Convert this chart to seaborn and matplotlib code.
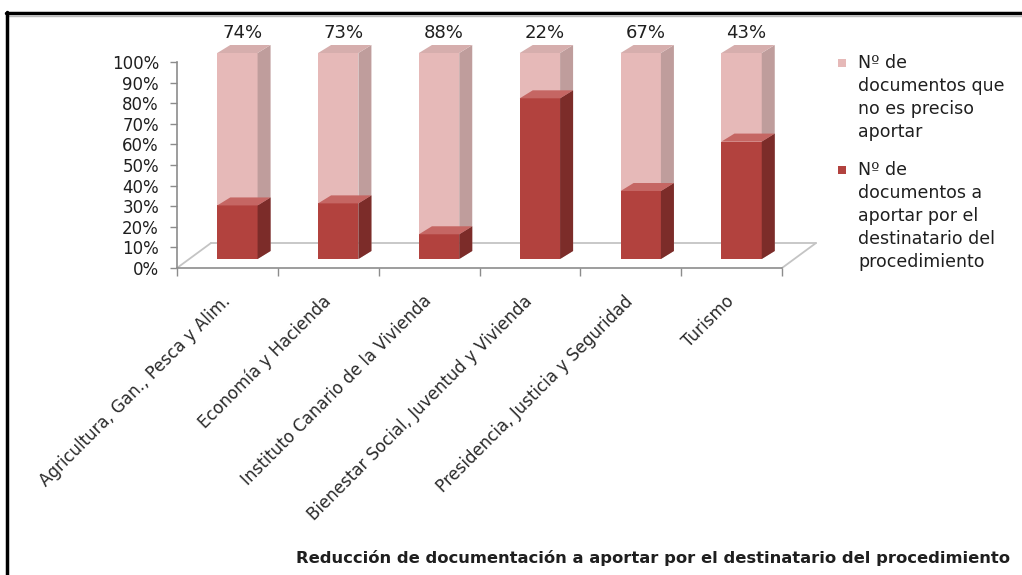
import numpy as np
import pandas as pd
import seaborn as sns
import matplotlib.pyplot as plt
from matplotlib.patches import Polygon, Rectangle
from matplotlib.lines import Line2D

categories = ["Agricultura, Gan., Pesca y Alim.", "Economía y Hacienda",
              "Instituto Canario de la Vivienda", "Bienestar Social, Juventud y Vivienda",
              "Presidencia, Justicia y Seguridad", "Turismo"]
no_preciso = [74, 73, 88, 22, 67, 43]
aportar = [26, 27, 12, 78, 33, 57]
series_names = ["Nº de\ndocumentos que\nno es preciso\naportar",
                "Nº de\ndocumentos a\naportar por el\ndestinatario del\nprocedimiento"]
yticks = list(range(0, 101, 10))
title = "Reducción de documentación a aportar por el destinatario del procedimiento"

pink_front, pink_side, pink_top = "#E6B9B8", "#BF9D9C", "#D6AEAD"
dark_front, dark_side, dark_top = "#B2423E", "#7C2C29", "#C56663"
text_col = "#1f1f1f"
axis_col = "#8C8C8C"

sns.set_theme(style="white")
plt.rcParams["font.family"] = ["DejaVu Sans"]

W, H = 1022, 575
fig = plt.figure(figsize=(W / 100, H / 100), dpi=100)
ax_l, ax_r, ax_b, ax_t = 177, 782, 268, 62
ax = fig.add_axes([ax_l / W, 1 - ax_b / H, (ax_r - ax_l) / W, (ax_b - ax_t) / H])

df = pd.DataFrame({"cat": categories, "aportar": aportar, "no": no_preciso})
df["total"] = df["aportar"] + df["no"]

sns.barplot(data=df, x="cat", y="total", color=pink_front, saturation=1, width=0.4,
            linewidth=0, edgecolor="none", ax=ax, zorder=3)
pink_patches = list(ax.patches)
sns.barplot(data=df, x="cat", y="aportar", color=dark_front, saturation=1, width=0.4,
            linewidth=0, edgecolor="none", ax=ax, zorder=3)
dark_patches = [p for p in ax.patches if p not in pink_patches]

ax.set_xlim(-0.5, len(categories) - 0.5)
ax.set_ylim(0, 100)
sx = (ax_r - ax_l) / len(categories)   # px per x unit
sy = (ax_b - ax_t) / 100.0              # px per %

# 3D-like offsets (pixels)
fx, fy = 10, 9       # front face shift into depth
ddx, ddy = 13, 8     # bar depth
floor_dx, floor_dy = 34, 25

def add_depth(patches, side_c, top_c, z):
    for p in patches:
        p.set_x(p.get_x() + fx / sx)
        p.set_y(p.get_y() + fy / sy)
        p.set_clip_on(False)
        p.set_zorder(z)
        x0, y0 = p.get_x(), p.get_y()
        x1, y1 = x0 + p.get_width(), y0 + p.get_height()
        dx, dy = ddx / sx, ddy / sy
        side = Polygon([(x1, y0), (x1 + dx, y0 + dy), (x1 + dx, y1 + dy), (x1, y1)],
                       closed=True, facecolor=side_c, edgecolor="none", zorder=z, clip_on=False)
        top = Polygon([(x0, y1), (x1, y1), (x1 + dx, y1 + dy), (x0 + dx, y1 + dy)],
                      closed=True, facecolor=top_c, edgecolor="none", zorder=z, clip_on=False)
        ax.add_patch(side)
        ax.add_patch(top)

add_depth(pink_patches, pink_side, pink_top, 3)
add_depth(dark_patches, dark_side, dark_top, 4)

# floor outline
x_lo, x_hi = -0.5, len(categories) - 0.5
fdx, fdy = floor_dx / sx, floor_dy / sy
floor_kw = dict(color="#C4C4C4", lw=1.3, clip_on=False, zorder=1)
ax.plot([x_lo + fdx, x_hi + fdx], [fdy, fdy], **floor_kw)
ax.plot([x_lo, x_lo + fdx], [0, fdy], **floor_kw)
ax.plot([x_hi, x_hi + fdx], [0, fdy], **floor_kw)

# axes styling
for s in ["top", "right"]:
    ax.spines[s].set_visible(False)
for s in ["left", "bottom"]:
    ax.spines[s].set_color(axis_col)
    ax.spines[s].set_linewidth(1.2)
ax.set_xlabel("")
ax.set_ylabel("")
ax.set_yticks(yticks)
ax.set_yticklabels([f"{v}%" for v in yticks], fontsize=12, color=text_col)
ax.tick_params(axis="y", which="major", direction="out", length=5, width=1,
               color=axis_col, pad=8, left=True)
ax.set_xticks(range(len(categories)))
ax.set_xticklabels(categories, rotation=45, ha="right", rotation_mode="anchor",
                   va="center", fontsize=12, color="#2a2a2a")
ax.tick_params(axis="x", which="major", length=0, pad=22)
ax.set_xticks(np.arange(-0.5, len(categories), 1.0), minor=True)
ax.tick_params(axis="x", which="minor", direction="out", length=6, width=1,
               color=axis_col, bottom=True)
ax.grid(False)
ax.patch.set_alpha(0)

# value labels
for i, v in enumerate(no_preciso):
    ax.annotate(f"{v}%", xy=(i, 100), xytext=(15 * 0.72, 29 * 0.72),
                textcoords="offset points", ha="center", va="center",
                fontsize=13, color=text_col, annotation_clip=False)

# legend (manual, Excel style)
leg_colors = [pink_front, dark_front]
leg_y = [63, 170]
for c, name, yy in zip(leg_colors, series_names, leg_y):
    fig.patches.append(Rectangle((838 / W, 1 - (yy + 4) / H), 8 / W, 8 / H,
                                 transform=fig.transFigure, facecolor=c, edgecolor="none"))
    fig.text(858 / W, 1 - (yy - 9) / H, name, ha="left", va="top", fontsize=12.5,
             linespacing=1.36, color=text_col)

# axis title
fig.text(653 / W, 1 - 558 / H, title, ha="center", va="center", fontsize=11.8,
         fontweight="bold", color=text_col)

# frame (top and left border of the cropped image)
fig.add_artist(Line2D([6 / W, 1], [1 - 13 / H] * 2, color="black", lw=2.5, transform=fig.transFigure))
fig.add_artist(Line2D([8 / W, 1], [1 - 15.5 / H] * 2, color="#BBBBBB", lw=1, transform=fig.transFigure))
fig.add_artist(Line2D([7 / W] * 2, [0, 1 - 12 / H], color="black", lw=2.5, transform=fig.transFigure))

fig.savefig("out.png", dpi=100)
